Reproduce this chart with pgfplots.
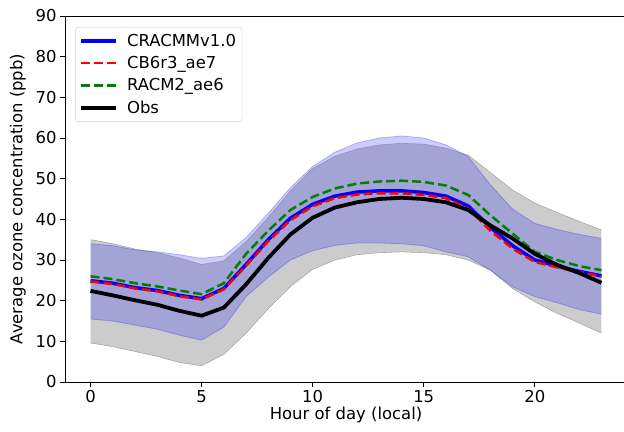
\documentclass[border=0pt]{standalone}
\usepackage{fontspec}
\setmainfont{DejaVu Sans}
\usepackage{pgfplots}
\pgfplotsset{compat=1.18}
\usepgfplotslibrary{fillbetween}
\usepackage{pgfplotstable}

\pgfplotstableread{
h obs obsU obsL cra craU craL cb racm
0 22.4 35.0 9.6 24.9 34.0 15.5 24.7 26.0
1 21.3 34.0 8.7 24.3 33.5 15.0 24.1 25.3
2 20.1 32.7 7.5 23.2 32.5 14.0 23.0 24.3
3 19.0 31.8 6.3 22.5 32.0 13.0 22.3 23.5
4 17.5 30.5 4.8 21.3 31.3 11.5 21.1 22.5
5 16.3 28.9 4.0 20.5 30.4 10.3 20.3 21.6
6 18.3 29.8 6.8 23.0 31.0 13.5 22.8 24.3
7 24.0 34.5 12.0 28.9 35.5 21.0 28.6 31.5
8 30.5 40.5 18.0 35.0 41.5 25.8 34.6 37.2
9 36.3 47.0 23.5 40.3 47.8 30.0 39.8 42.3
10 40.4 52.5 27.7 43.7 53.0 32.3 43.2 45.5
11 42.9 55.5 30.0 45.7 56.5 33.6 45.2 47.6
12 44.2 57.3 31.3 46.7 58.8 34.2 46.1 48.8
13 45.0 58.3 31.8 47.0 60.0 34.2 46.4 49.3
14 45.3 58.7 32.0 47.0 60.5 34.0 46.4 49.5
15 45.0 58.5 31.8 46.6 60.0 33.5 46.0 49.2
16 44.2 57.5 31.3 45.7 58.3 32.0 45.2 48.3
17 42.3 55.8 30.0 43.3 55.4 30.8 42.6 46.0
18 38.5 51.5 27.5 38.0 48.5 27.5 37.2 41.0
19 35.3 47.2 23.0 33.5 42.5 23.4 32.8 36.5
20 31.5 44.0 19.7 30.0 39.0 21.0 29.5 32.0
21 28.8 41.7 16.9 28.5 37.5 19.5 28.2 30.0
22 26.8 39.5 14.5 27.2 36.3 17.8 27.0 28.5
23 24.4 37.4 12.0 26.1 35.3 16.7 26.0 27.5
}\data

\definecolor{mplgreen}{RGB}{0,128,0}

\begin{document}
\begin{tikzpicture}
\begin{axis}[
  scale only axis, width=562bp, height=366bp,
  xmin=-1.15, xmax=24.15, ymin=0, ymax=90,
  xtick={0,5,10,15,20}, ytick={0,10,...,90},
  axis lines=left, axis line style={-, line width=0.9bp},
  tick align=outside, tick style={black, line width=0.9bp}, major tick length=5bp,
  font=\fontsize{16.5}{19.5}\selectfont,
  /pgf/number format/assume math mode=true,
  xlabel={Hour of day (local)}, ylabel={Average ozone concentration (ppb)},
  xlabel style={yshift=3bp}, ylabel style={yshift=3bp},
  clip=false,
  legend cell align=left,
  legend image code/.code={\draw[#1] (0bp,0bp) -- (35bp,0bp);},
  legend style={at={(0.018,0.97)}, anchor=north west, draw=black!20, rounded corners=3bp,
    fill=white, font=\fontsize{16.5}{19.5}\selectfont, row sep=4.5bp, inner xsep=4bp, inner ysep=5bp,
    /tikz/every odd column/.append style={column sep=7bp}},
]
\addplot[name path=oU, draw=gray, draw opacity=0.6, line width=0.6bp, forget plot] table[x=h,y=obsU]{\data};
\addplot[name path=oL, draw=gray, draw opacity=0.6, line width=0.6bp, forget plot] table[x=h,y=obsL]{\data};
\addplot[fill=gray, fill opacity=0.4, draw=none, forget plot] fill between[of=oU and oL];
\addplot[name path=cU, draw=blue, draw opacity=0.25, line width=0.8bp, forget plot] table[x=h,y=craU]{\data};
\addplot[name path=cL, draw=blue, draw opacity=0.25, line width=0.8bp, forget plot] table[x=h,y=craL]{\data};
\addplot[fill=blue, fill opacity=0.2, draw=none, forget plot] fill between[of=cU and cL];

\addplot[blue, line width=3.5bp] table[x=h,y=cra]{\data};
\addlegendentry{CRACMMv1.0}
\addplot[red, line width=2.5bp, dash pattern=on 9bp off 4bp] table[x=h,y=cb]{\data};
\addlegendentry{CB6r3\_ae7}
\addplot[mplgreen, line width=2.5bp, dash pattern=on 9bp off 4bp] table[x=h,y=racm]{\data};
\addlegendentry{RACM2\_ae6}
\addplot[black, line width=3.8bp] table[x=h,y=obs]{\data};
\addlegendentry{Obs}

\draw[line width=0.9bp] (rel axis cs:0,1) -- (rel axis cs:1,1);
\end{axis}
\pgfresetboundingbox
\path[use as bounding box] ([shift={(-65bp,-50bp)}]current axis.south west) rectangle ([shift={(559bp,382bp)}]current axis.south west);
\end{tikzpicture}
\end{document}
